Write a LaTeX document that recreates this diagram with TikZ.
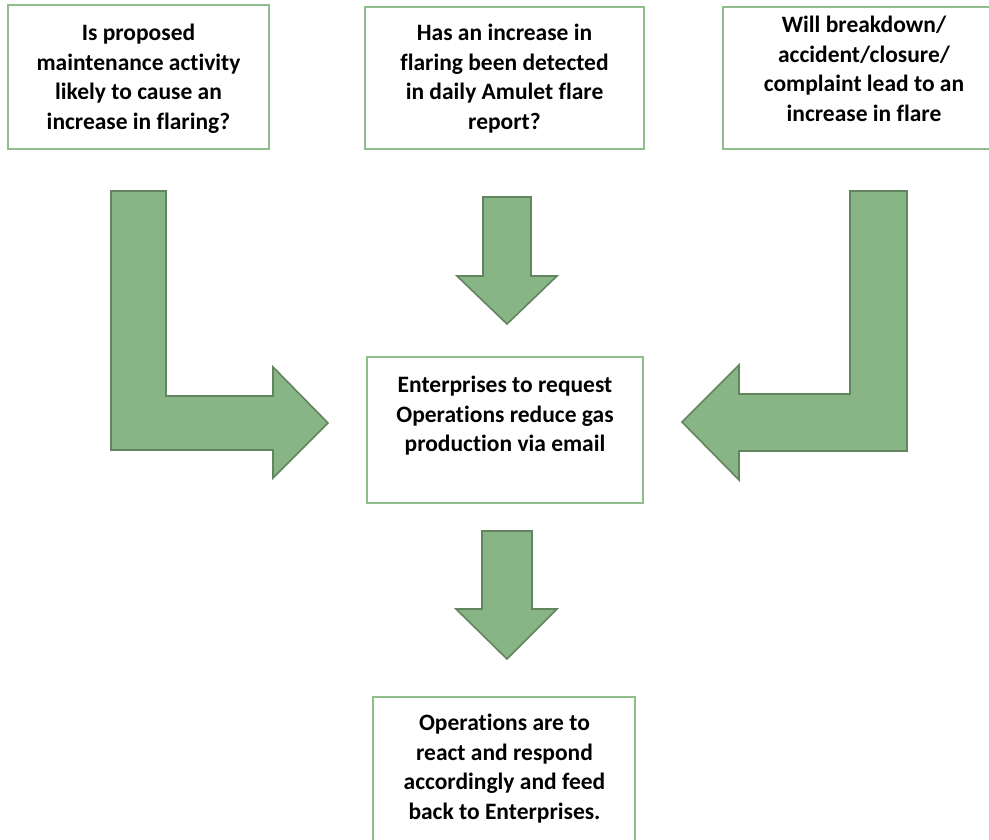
\documentclass[tikz,border=0pt]{standalone}
\usepackage{fontspec}
\setmainfont[Ligatures=CommonOff]{Carlito}
\definecolor{boxline}{RGB}{143,190,140}
\definecolor{arrfill}{RGB}{136,181,134}
\definecolor{arrline}{RGB}{98,132,94}
\tikzset{
  qbox/.style={draw=boxline, line width=2pt, fill=white, inner sep=0pt},
  qtext/.style={anchor=north, inner sep=0pt, align=center,
    font=\bfseries\fontsize{23.5}{29.8}\selectfont},
  blockarrow/.style={fill=arrfill, draw=arrline, line width=1.6pt, line join=miter}
}
\newcommand{\fst}{\rule{0pt}{18pt}}
\begin{document}
\begin{tikzpicture}[x=1pt,y=-1pt]
\useasboundingbox (0,0) rectangle (989,839);
% boxes
\node[qbox, minimum width=261pt, minimum height=144pt] (b1) at (138.5,77) {};
\node[qbox, minimum width=279pt, minimum height=142pt] (b2) at (504.5,78) {};
\node[qbox, minimum width=277pt, minimum height=142pt] (b3) at (861.5,78) {};
\node[qbox, minimum width=276pt, minimum height=146pt] (b4) at (505,430) {};
\node[qbox, minimum width=262pt, minimum height=163pt] (b5) at (504,778.5) {};
% texts
\node[qtext] (t1) at (138.5,22) {\fst Is proposed\\maintenance activity\\likely to cause an\\increase in flaring?};
\node[qtext] (t2) at (504.5,22) {\fst Has an increase in\\flaring been detected\\in daily Amulet flare\\report?};
\node[qtext] (t3) at (864,14) {\fst Will breakdown/\\accident/closure/\\complaint lead to an\\increase in flare};
\node[qtext] (t4) at (505,374) {\fst Enterprises to request\\Operations reduce gas\\production via email};
\node[qtext] (t5) at (504.5,712) {\fst Operations are to\\react and respond\\accordingly and feed\\back to Enterprises.};
% block arrows
\draw[blockarrow] (111,191) -- (166,191) -- (166,396) -- (273,396) -- (273,367)
  -- (328,423) -- (273,478) -- (273,450) -- (111,450) -- cycle;
\draw[blockarrow] (907,191) -- (850,191) -- (850,394) -- (739,394) -- (739,365)
  -- (682,422) -- (739,480) -- (739,451) -- (907,451) -- cycle;
\draw[blockarrow] (483,197) -- (531,197) -- (531,276) -- (557,276) -- (507,324)
  -- (457,276) -- (483,276) -- cycle;
\draw[blockarrow] (482,531) -- (532,531) -- (532,609) -- (557,609) -- (507,659)
  -- (456,609) -- (482,609) -- cycle;
\end{tikzpicture}
\end{document}
